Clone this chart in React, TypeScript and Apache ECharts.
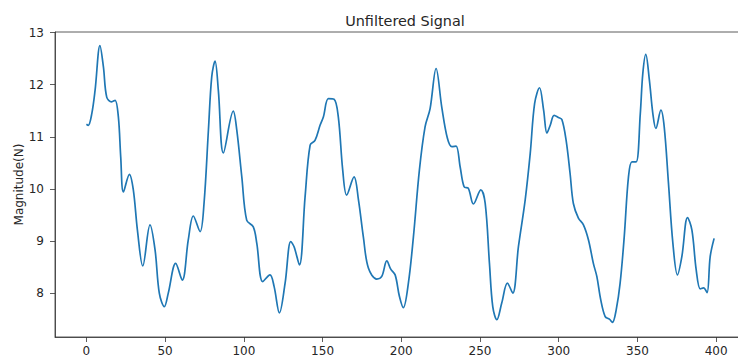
import React, { useEffect, useRef } from "react";
import * as echarts from "echarts";

// Sample index (x) and magnitude (y)
const sampleX = [
  0, 1.2, 3.4, 5.5, 8.6, 10.8, 12.9, 16, 18.2, 20.3, 21.8, 23.5, 27.3, 29.8, 32.4, 35.8,
  40.4, 43.6, 46.3, 49.5, 52, 56.7, 60.9, 64.7, 67.9, 72.2, 74.7, 77.5, 79.6, 81.7, 83.8,
  87, 93.3, 95.5, 98.7, 101.8, 106, 108.2, 112, 116.6, 119.2, 122.6, 126.2, 129.8, 131.9,
  135.3, 138.9, 142.1, 145.2, 148.4, 150.5, 153.7, 157.3, 160, 162.8, 165.3, 170, 172.8,
  175.9, 179.1, 184.4, 187.6, 190.8, 193.3, 196.1, 198.8, 201.3, 204.5, 207.7, 211.5,
  215.1, 218.3, 222.1, 225.7, 229.3, 232.1, 234.8, 237.4, 239.9, 242.6, 245.8, 250.5,
  253.3, 256, 258.1, 260.7, 263.8, 267.4, 270.8, 274.4, 278.7, 281.9, 284.7, 287.8, 290.4,
  292.5, 294.6, 297.1, 299.8, 302, 304.7, 307.2, 309.3, 312.5, 315.7, 318.9, 322, 324.2,
  326.7, 329.5, 332.2, 334.1, 336.5, 339, 341.6, 344.3, 346.5, 349.2, 351.8, 353.4, 355.3,
  357.6, 359.8, 361.7, 364.9, 367, 369.7, 372.5, 375.4, 378.2, 381.8, 384.6, 387.3, 389.9,
  392, 394.2, 396.2, 398.7,
];
const magnitude = [
  11.24, 11.22, 11.44, 11.89, 12.75, 12.34, 11.76, 11.67, 11.7, 11.38, 10.61, 9.94, 10.28,
  9.98, 9.21, 8.52, 9.31, 8.83, 8.0, 7.74, 8.0, 8.57, 8.25, 9.02, 9.48, 9.18, 9.72, 11.13,
  12.15, 12.45, 11.89, 10.69, 11.49, 11.13, 10.23, 9.4, 9.27, 8.96, 8.22, 8.35, 8.13, 7.62,
  8.19, 8.99, 8.89, 8.54, 9.85, 10.84, 10.93, 11.22, 11.38, 11.73, 11.72, 11.38, 10.36,
  9.88, 10.23, 9.79, 9.08, 8.48, 8.27, 8.32, 8.62, 8.46, 8.35, 7.94, 7.72, 8.19, 9.08,
  10.36, 11.19, 11.54, 12.31, 11.57, 10.97, 10.81, 10.82, 10.42, 10.04, 10.01, 9.71, 9.98,
  9.72, 8.57, 7.74, 7.49, 7.81, 8.19, 8.0, 8.89, 9.79, 10.68, 11.64, 11.94, 11.51, 11.07,
  11.22, 11.41, 11.37, 11.33, 10.93, 10.3, 9.72, 9.44, 9.31, 9.02, 8.57, 8.32, 7.87, 7.55,
  7.5, 7.44, 7.68, 8.19, 9.08, 10.23, 10.52, 10.52, 11.44, 12.21, 12.58, 12.08, 11.44,
  11.16, 11.51, 11.19, 10.11, 8.96, 8.35, 8.7, 9.45, 9.21, 8.45, 8.08, 8.1, 8.01, 8.7, 9.05,
];
const xTicks = [0, 50, 100, 150, 200, 250, 300, 350, 400];
const yTicks = [8, 9, 10, 11, 12, 13];

const FONT = "DejaVu Sans";

export default function App() {
  const ref = useRef<HTMLDivElement>(null);
  useEffect(() => {
    if (!ref.current) return;
    const chart = echarts.init(ref.current, null, { renderer: "svg" });
    const data = sampleX.map((x, i) => [x, magnitude[i]]);
    chart.setOption({
      animation: false,
      backgroundColor: "#ffffff",
      title: {
        text: "Unfiltered Signal",
        left: 400,
        textAlign: "center",
        top: 9,
        textStyle: { fontFamily: FONT, fontSize: 14.4, fontWeight: "normal", color: "#262626" },
      },
      grid: {
        left: 55,
        top: 32,
        right: 0,
        bottom: 27,
        containLabel: false,
        outerBoundsMode: "none",
        show: true,
        borderColor: "#333",
        borderWidth: 0.8,
        backgroundColor: "transparent",
      },
      xAxis: {
        type: "value",
        min: -19.95,
        max: 418.95,
        splitLine: { show: false },
        axisLine: { show: true, onZero: false, lineStyle: { color: "#333", width: 0.8 } },
        axisTick: { show: true, length: 5, customValues: xTicks, lineStyle: { color: "#333", width: 0.8 } },
        axisLabel: {
          customValues: xTicks,
          fontFamily: FONT,
          fontSize: 12,
          color: "#262626",
          margin: 8,
        },
      },
      yAxis: {
        type: "value",
        min: 7.158,
        max: 13.01,
        name: "Magnitude(N)",
        nameLocation: "middle",
        nameGap: 30,
        nameMoveOverlap: false,
        nameTextStyle: { fontFamily: FONT, fontSize: 12, color: "#262626" },
        splitLine: { show: false },
        axisLine: { show: true, onZero: false, lineStyle: { color: "#333", width: 0.8 } },
        axisTick: { show: true, length: 5, customValues: yTicks, lineStyle: { color: "#333", width: 0.8 } },
        axisLabel: {
          customValues: yTicks,
          fontFamily: FONT,
          fontSize: 12,
          color: "#262626",
          margin: 11,
        },
      },
      series: [
        {
          type: "line",
          data,
          smooth: 0.35,
          showSymbol: false,
          lineStyle: { color: "#1f77b4", width: 1.7 },
        },
      ],
    });
    return () => chart.dispose();
  }, []);
  return (
    <div
      ref={ref}
      style={{ position: "fixed", left: 0, top: 0, width: 746, height: 364, background: "#fff" }}
    />
  );
}
